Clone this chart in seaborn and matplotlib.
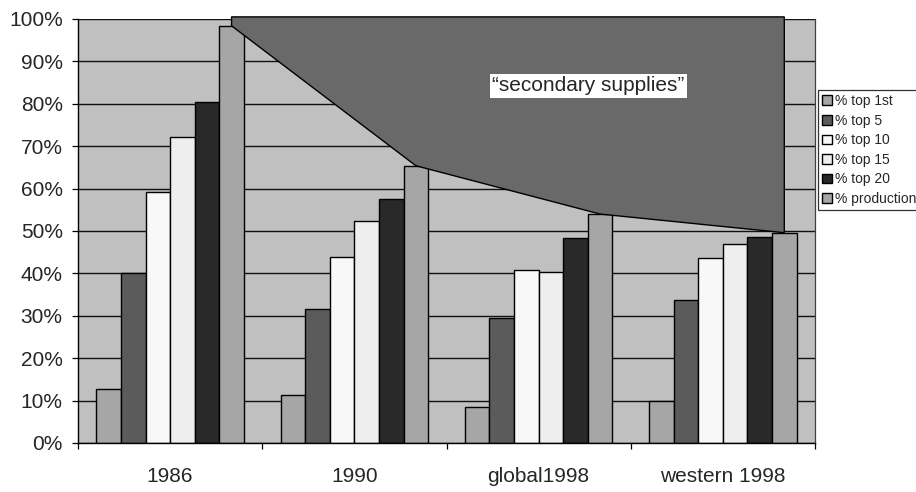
import numpy as np
import pandas as pd
import seaborn as sns
import matplotlib.pyplot as plt
from matplotlib.ticker import FuncFormatter

# data
regions = ["1986", "1990", "global1998", "western 1998"]
series = ["% top 1st", "% top 5", "% top 10", "% top 15", "% top 20", "% production"]
top_1st = [12.7, 11.3, 8.4, 10.0]
top_5 = [40.0, 31.6, 29.4, 33.7]
top_10 = [59.2, 43.8, 40.9, 43.7]
top_15 = [72.2, 52.4, 40.3, 46.9]
top_20 = [80.4, 57.5, 48.3, 48.5]
production = [98.4, 65.4, 54.0, 49.6]
supply_ceiling = 100.5
colors = ["#A6A6A6", "#5B5B5B", "#F8F8F8", "#EEEEEE", "#292929", "#A6A6A6"]

values = [top_1st, top_5, top_10, top_15, top_20, production]
rows = []
for name, vals in zip(series, values):
    for reg, v in zip(regions, vals):
        rows.append({"region": reg, "series": name, "value": v})
df = pd.DataFrame(rows)

sns.set_style("white")
plt.rcParams["font.family"] = ["Liberation Sans", "DejaVu Sans"]

fig = plt.figure(figsize=(9.16, 4.92), dpi=100)
ax = fig.add_axes([78 / 916, 1 - 443 / 492, (815 - 78) / 916, (443 - 19) / 492])
ax.set_facecolor("#C0C0C0")

sns.barplot(data=df, x="region", y="value", hue="series", order=regions,
            hue_order=series, palette=colors, width=0.8, edgecolor="black",
            linewidth=1.0, saturation=1, ax=ax)

# "secondary supplies" area above the production bars
bar_w = 0.8 / len(series)
prod_off = -0.4 + bar_w / 2 + (len(series) - 1) * bar_w
xs = np.arange(len(regions)) + prod_off
poly_x = list(xs) + list(xs[::-1])
poly_y = [supply_ceiling] * len(xs) + production[::-1]
ax.fill(poly_x, poly_y, facecolor="#696969", edgecolor="black", linewidth=1.0,
        zorder=3, clip_on=False)
ax.text(2.27, 84.2, "\u201csecondary supplies\u201d", ha="center", va="center",
        fontsize=15, zorder=4,
        bbox=dict(facecolor="white", edgecolor="none", pad=1.5))

ax.set_ylim(0, 100)
ax.set_xlim(-0.5, len(regions) - 0.5)
ax.set_yticks(np.arange(0, 101, 10))
ax.yaxis.set_major_formatter(FuncFormatter(lambda v, p: f"{v:.0f}%"))
ax.yaxis.grid(True, color="#111111", linewidth=1.0)
ax.set_axisbelow(True)

ax.set_xticks(np.arange(len(regions) + 1) - 0.5)
ax.set_xticklabels([])
ax.set_xticks(np.arange(len(regions)), minor=True)
ax.set_xticklabels(regions, minor=True)
ax.tick_params(axis="x", which="major", direction="out", length=4.5, width=0.9,
               color="black", bottom=True)
ax.tick_params(axis="x", which="minor", length=0, pad=17, labelsize=15)
ax.tick_params(axis="y", direction="out", length=4.5, width=0.9, color="black",
               left=True, pad=6.5, labelsize=15)
ax.set_xlabel("")
ax.set_ylabel("")

for side in ["left", "bottom"]:
    ax.spines[side].set_color("black")
    ax.spines[side].set_linewidth(1)
ax.spines["top"].set_visible(False)
ax.spines["right"].set_color("#404040")
ax.spines["right"].set_linewidth(0.9)

handles, labels = ax.get_legend_handles_labels()
ax.get_legend().remove()
leg = fig.legend(handles, labels, loc="upper left",
                 bbox_to_anchor=(818 / 916, 1 - 90 / 492), fontsize=10,
                 frameon=True, fancybox=False, edgecolor="black",
                 handlelength=0.7, handleheight=0.7, handletextpad=0.2,
                 labelspacing=0.4, borderpad=0.3, borderaxespad=0)
leg.get_frame().set_linewidth(0.9)

fig.savefig("out.png", dpi=100)
